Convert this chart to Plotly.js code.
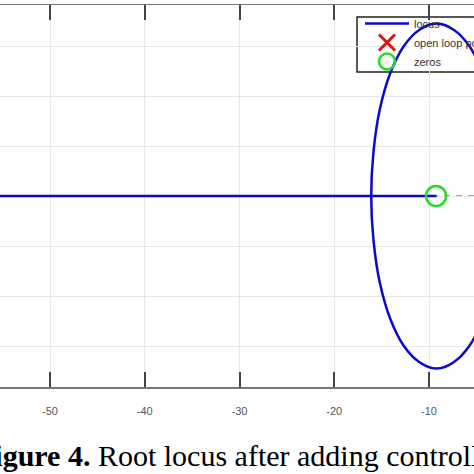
<!DOCTYPE html>
<html>
<head>
<meta charset="utf-8">
<script src="https://cdn.plot.ly/plotly-3.0.1.min.js"></script>
<style>html,body{margin:0;padding:0;background:#fff;}#plot{width:474px;height:474px;}</style>
</head>
<body>
<div id="plot"></div>
<script>
// Real-axis branch of the locus (from far left to the zero)
const realBranchX = [-60, -16.1, -9.2];
const realBranchY = [0, 0, 0];
// Circular branch of the locus
const circleX = [-3.2, -4.3, -5.75, -7.4, -9.2, -11.0, -12.65, -14.1, -15.2, -15.85, -16.1, -15.85, -15.2, -14.1, -12.65, -11.0, -9.2, -7.4, -5.75, -4.3, -3.2];
const circleY = [3.45, 4.9, 6.0, 6.65, 6.9, 6.65, 6.0, 4.9, 3.45, 1.8, 0, -1.8, -3.45, -4.9, -6.0, -6.65, -6.9, -6.65, -6.0, -4.9, -3.45];
// Open loop poles (outside the visible window)
const poleX = [-3.2, -3.2];
const poleY = [3.45, -3.45];
// Zeros
const zeroX = [-9.25];
const zeroY = [0];
// Axis ticks
const xTicks = [-50, -40, -30, -20, -10];
const xTickLabels = ['-50', '-40', '-30', '-20', '-10'];
const caption = '<b>Figure 4.</b> Root locus after adding controller';

const blue = '#0a0acc';
const traces = [
  {x: realBranchX, y: realBranchY, mode: 'lines', name: 'locus', line: {color: blue, width: 2.5}, legendgroup: 'l'},
  {x: circleX, y: circleY, mode: 'lines', name: 'locus', showlegend: false, line: {color: blue, width: 2.5, shape: 'spline', smoothing: 1.2}, legendgroup: 'l'},
  {x: poleX, y: poleY, mode: 'markers', name: 'open loop poles', marker: {symbol: 'x-thin-open', size: 20, color: '#e01010', line: {color: '#e01010', width: 3}}},
  {x: zeroX, y: zeroY, mode: 'markers', name: 'zeros', marker: {symbol: 'circle-open', size: 20, color: '#22dd22', line: {color: '#22dd22', width: 2.5}}}
];

const layout = {
  width: 474, height: 474,
  margin: {l: 0, r: 0, t: 5, b: 87, pad: 0, autoexpand: false},
  paper_bgcolor: '#fff', plot_bgcolor: '#fff',
  showlegend: true,
  xaxis: {
    range: [-55.28, -5.25], tickvals: xTicks, ticktext: xTickLabels,
    ticks: 'inside', ticklen: 15, tickwidth: 2, tickcolor: '#444',
    showline: true, linecolor: '#777', linewidth: 1.5, mirror: 'ticks',
    showgrid: true, gridcolor: '#e8e8e8', gridwidth: 1, zeroline: false,
    tickfont: {family: 'Liberation Sans, Arial, sans-serif', size: 11, color: '#555'},
    ticklabelstandoff: 13, automargin: false
  },
  yaxis: {
    range: [-7.64, 7.64], dtick: 2, tick0: 0,
    showticklabels: false, ticks: '', showline: false,
    showgrid: true, gridcolor: '#e8e8e8', gridwidth: 1, zeroline: false, automargin: false
  },
  legend: {
    x: 0.7595, y: 0.9895, xanchor: 'left', yanchor: 'top',
    bgcolor: 'rgba(0,0,0,0)', borderwidth: 0,
    font: {family: 'Liberation Sans, Arial, sans-serif', size: 11, color: '#333'},
    itemwidth: 44, tracegroupgap: 0
  },
  shapes: [
    {type: 'rect', xref: 'paper', yref: 'paper', x0: 0.7532, x1: 1.1, y0: 0.8246, y1: 0.9686, fillcolor: '#fff', line: {color: '#222', width: 1.5}, layer: 'between'},
    {type: 'line', xref: 'paper', yref: 'y', x0: 0, x1: 1, y0: 0, y1: 0, line: {color: '#555', width: 1, dash: '6px,6px'}, layer: 'between'}
  ],
  annotations: [
    {text: caption, xref: 'paper', yref: 'paper', x: -0.054, y: -0.18, xanchor: 'left', yanchor: 'middle', showarrow: false,
     font: {family: 'Liberation Serif, Times New Roman, serif', size: 30, color: '#000'}}
  ]
};

Plotly.newPlot('plot', traces, layout, {displayModeBar: false, staticPlot: true});
</script>
</body>
</html>
